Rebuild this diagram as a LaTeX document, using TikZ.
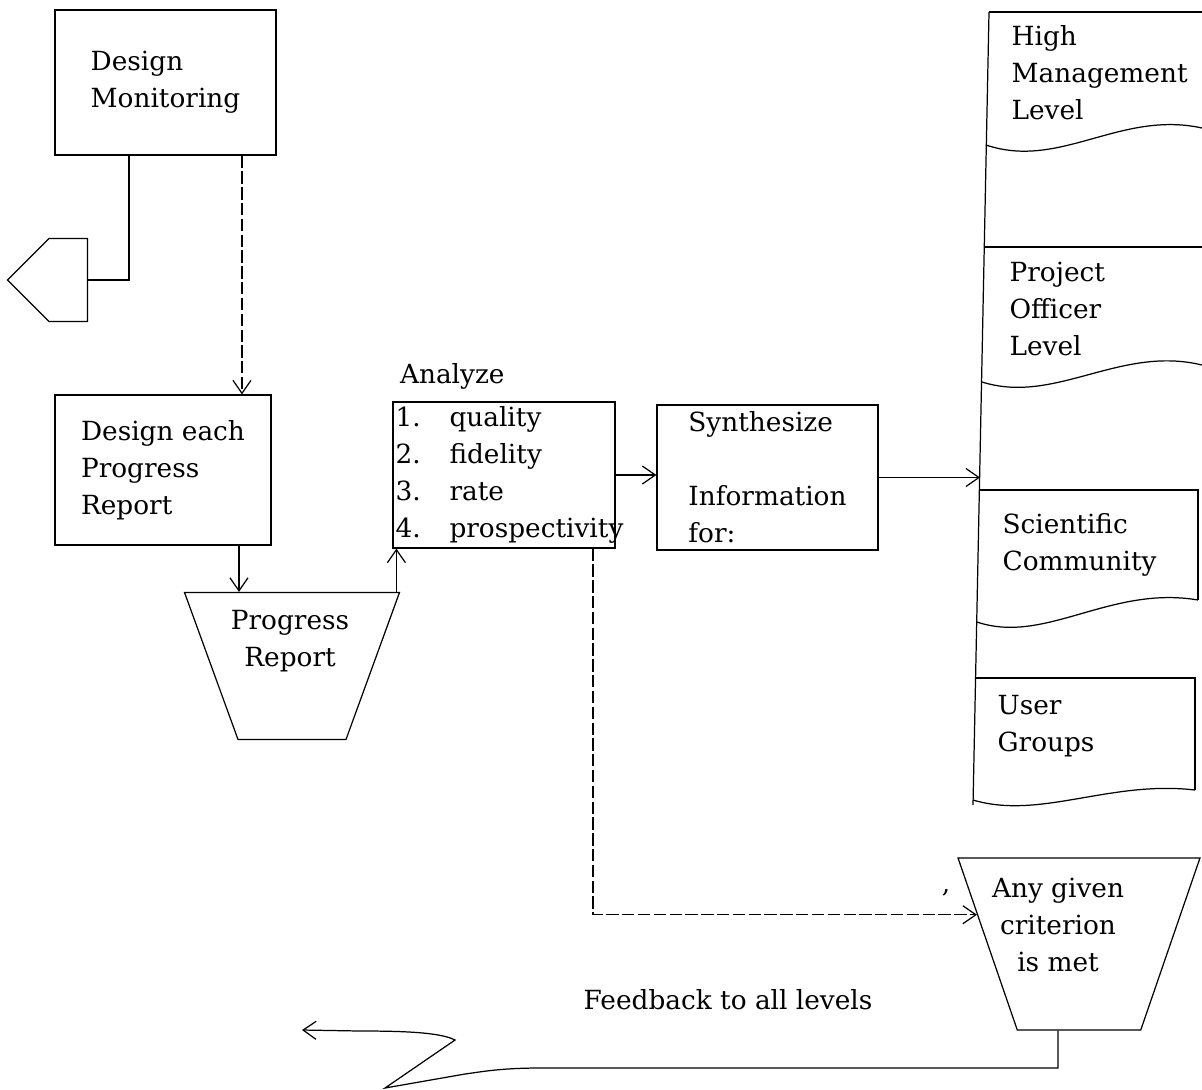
\documentclass[tikz,border=0pt]{standalone}
\usepackage{fontspec}
\setmainfont{DejaVu Serif}
\usetikzlibrary{positioning, shapes.geometric, shapes.symbols, arrows.meta, calc}

\begin{document}
\begin{tikzpicture}[x=0.02cm, y=-0.02cm, line width=0.7pt,
  font=\fontsize{15}{21}\selectfont,
  box/.style={draw, rectangle, align=left, inner sep=0pt},
  tray/.style={draw, trapezium, shape border rotate=180},
  txt/.style={align=left, inner sep=0pt},
  arr/.style={-{Straight Barb[length=2.6mm, width=3.6mm]}},
  faint/.style={dash pattern=on 7pt off 2pt}]
  \useasboundingbox (0,0) rectangle (1202,1089);

  \node[box, minimum width=4.42cm, minimum height=2.9cm] (mon) at (165.5,82.5) {Design\\Monitoring};
  \node[draw, signal, signal to=west, minimum width=1.6cm, minimum height=1.66cm, inner sep=0pt, anchor=east] (conn) at (88,280) {};
  \node[box, minimum width=4.32cm, minimum height=3cm] (dprep) at (163,470) {Design each\\Progress\\Report};
  \node[tray, trapezium angle=70, inner xsep=1.08cm, inner ysep=1.47cm] (prep) at (292,666) {};
  \node[txt, align=center] (preptxt) at (290,641) {Progress\\Report};

  \node[box, minimum width=4.44cm, minimum height=2.92cm, text width=4.34cm] (ana) at (504,475)
    {\makebox[1.08cm][l]{1.}quality\\\makebox[1.08cm][l]{2.}fidelity\\\makebox[1.08cm][l]{3.}rate\\\makebox[1.08cm][l]{4.}prospectivity};
  \node[txt, anchor=base west] (anatitle) at ([xshift=0.14cm, yshift=0.36cm]ana.north west) {Analyze};
  \node[box, minimum width=4.42cm, minimum height=2.9cm] (syn) at (767.5,477.5) {Synthesize\\[21pt]Information\\for:};
  \coordinate (colin) at (980,474);

  \draw (989,12) -- (973,805);
  \draw (989,12) -- (1202,12);
  \draw (986,145) .. controls (1060,170) and (1120,110) .. (1202,128);
  \draw (984,247) -- (1202,247);
  \draw (982,382) .. controls (1055,405) and (1120,345) .. (1202,365);
  \draw (979,490) -- (1198,490) -- (1198,600);
  \draw (977,622) .. controls (1045,645) and (1110,585) .. (1198,600);
  \draw (976,678) -- (1195,678) -- (1195,790);
  \draw (973,800) .. controls (1040,820) and (1110,780) .. (1195,790);
  \node[txt, anchor=west] (hml) at (1011,73) {High\\Management\\Level};
  \node[txt, anchor=west] (pol) at (1009,309) {Project\\Officer\\Level};
  \node[txt, anchor=west] (sci) at (1002,545) {Scientific\\Community};
  \node[txt, anchor=west] (usr) at (997,726) {User\\Groups};

  \node[tray, trapezium angle=71, inner xsep=1.235cm, inner ysep=1.72cm] (crit) at (1079,944) {};
  \node[txt, align=center] (crittxt) at (1058,925) {Any given\\criterion\\is met};
  \node[txt] (comma) at (946,893) {,};
  \node[txt] (fbtxt) at (728,1000) {Feedback to all levels};
  \coordinate (fbend) at (302,1030);

  \draw ([xshift=-0.73cm]mon.south) |- (conn.east);
  \draw[arr, faint] ([xshift=1.53cm]mon.south) -- ([xshift=1.53cm]mon.south |- dprep.north);
  \draw[arr] ([xshift=1.52cm]dprep.south) -- ([xshift=1.52cm]dprep.south |- prep.north);
  \draw[arr] ([xshift=0.08cm]ana.south west |- prep.north) -- ([xshift=0.08cm]ana.south west);
  \draw[arr] (ana.east) -- (ana.east -| syn.west);
  \draw[arr] (syn.east) -- (syn.east -| colin);
  \draw[arr, faint] ([xshift=1.78cm]ana.south) |- (crit.164);
  \draw[arr] ([xshift=-0.42cm]crit.south) |- (540,1068) .. controls (500,1068) and (480,1072) .. (465,1074)
    -- (385,1088) -- (455,1040) .. controls (440,1032) and (400,1031) .. (360,1031) -- (fbend);
\end{tikzpicture}
\end{document}
